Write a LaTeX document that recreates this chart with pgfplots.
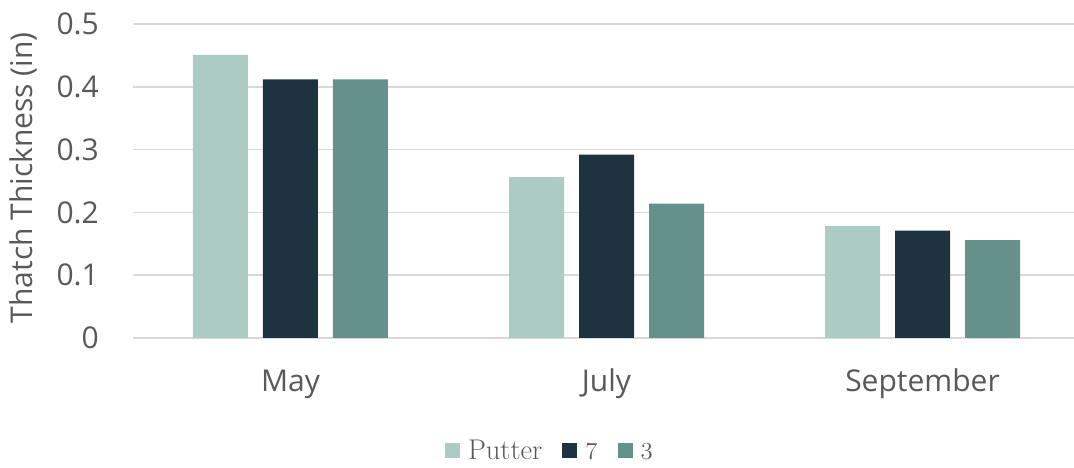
\documentclass[border=0pt]{standalone}
\usepackage{fontspec}
\setmainfont{Open Sans}
\newfontfamily\legfont{Latin Modern Roman}
\newcommand{\osf}[1]{{\fontencoding{OML}\fontfamily{cmm}\fontseries{m}\fontshape{it}\selectfont #1}}
\usepackage{pgfplots}
\pgfplotsset{compat=1.18}
\definecolor{cPutter}{RGB}{172,203,195}
\definecolor{cSeven}{RGB}{31,50,64}
\definecolor{cThree}{RGB}{100,145,138}
\definecolor{textgray}{RGB}{89,89,89}
\definecolor{gridgray}{RGB}{217,217,217}
\begin{document}
\begin{tikzpicture}
\useasboundingbox (-133pt,-130pt) rectangle (941pt,338pt);
\begin{axis}[
  at={(0pt,0pt)}, anchor=south west,
  scale only axis,
  width=941pt, height=314pt,
  xmin=-0.4984, xmax=2.4794,
  ymin=0, ymax=0.5,
  ytick={0,0.1,0.2,0.3,0.4,0.5},
  xtick={0,1,2},
  xticklabels={May,July,September},
  ybar=15pt, bar width=55pt,
  axis line style={draw=none},
  major tick length=0pt,
  tick style={draw=none},
  ymajorgrids,
  grid style={gridgray, line width=1.5pt},
  /pgf/number format/assume math mode=true,
  /pgf/number format/fixed,
  tick label style={font=\fontsize{30}{36}\selectfont, text=textgray},
  yticklabel style={inner sep=0pt, anchor=east, xshift=-34pt},
  xticklabel style={inner sep=0pt, anchor=north, yshift=-31pt, text height=22pt, text depth=6pt},
  ylabel={Thatch Thickness (in)},
  every axis y label/.style={at={(axis description cs:-0.1169,0.51)}, anchor=center, rotate=90, font=\fontsize{30}{36}\selectfont, text=textgray},
  legend style={at={(axis description cs:0.443,-0.357)}, anchor=center, draw=none, fill=none,
    font=\legfont\fontsize{28.5}{32}\selectfont, text=textgray,
    /tikz/every even column/.append style={column sep=18pt},
    /tikz/every odd column/.append style={column sep=6pt}},
  legend columns=3,
  legend image code/.code={\fill[#1,draw=none] (0pt,-7.5pt) rectangle (15pt,7.5pt);},
]
\addplot[fill=cPutter, draw=none] coordinates {(0,0.451) (1,0.256) (2,0.178)};
\addplot[fill=cSeven, draw=none] coordinates {(0,0.412) (1,0.292) (2,0.171)};
\addplot[fill=cThree, draw=none] coordinates {(0,0.412) (1,0.214) (2,0.156)};
\legend{Putter,\osf{7},\osf{3}}
\end{axis}
\end{tikzpicture}
\end{document}
